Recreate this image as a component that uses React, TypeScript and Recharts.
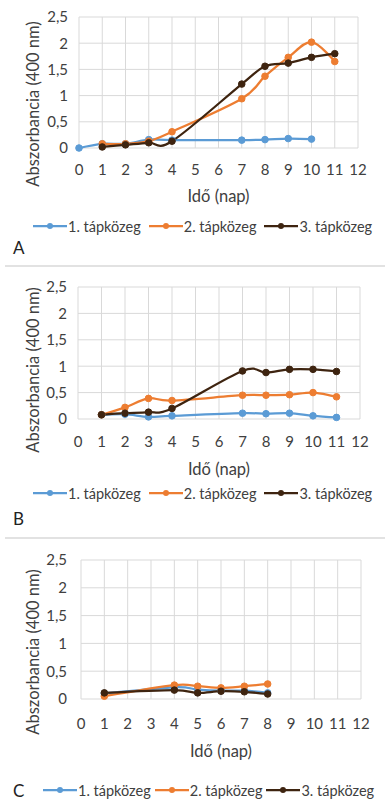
import React from 'react';
import { LineChart, Line, XAxis, YAxis, CartesianGrid } from 'recharts';

// ---------- shared ----------
const xTicks = [0, 1, 2, 3, 4, 5, 6, 7, 8, 9, 10, 11, 12];
const yTicks = [0, 0.5, 1, 1.5, 2, 2.5];
const seriesNames = ['1. tápközeg', '2. tápközeg', '3. tápközeg'];
const seriesColors = ['#5b9bd5', '#ed7d31', '#3e2410'];
const yTitle = 'Abszorbancia (400 nm)';
const xTitle = 'Idő (nap)';

// ---------- panel A ----------
const daysA1 = [0, 1, 2, 3, 4, 7, 8, 9, 10];
const valsA1 = [0, 0.08, 0.08, 0.16, 0.15, 0.15, 0.16, 0.18, 0.17];
const daysA = [1, 2, 3, 4, 7, 8, 9, 10, 11];
const valsA2 = [0.08, 0.08, 0.13, 0.31, 0.94, 1.37, 1.73, 2.02, 1.65];
const valsA3 = [0.02, 0.06, 0.1, 0.13, 1.22, 1.56, 1.62, 1.73, 1.8];

// ---------- panel B ----------
const daysB = [1, 2, 3, 4, 7, 8, 9, 10, 11];
const valsB1 = [0.08, 0.09, 0.04, 0.06, 0.11, 0.1, 0.11, 0.06, 0.03];
const valsB2 = [0.08, 0.22, 0.39, 0.35, 0.45, 0.45, 0.46, 0.5, 0.42];
const valsB3 = [0.08, 0.11, 0.13, 0.2, 0.91, 0.88, 0.94, 0.94, 0.9];

// ---------- panel C ----------
const daysC = [1, 4, 5, 6, 7, 8];
const valsC1 = [0.1, 0.21, 0.17, 0.15, 0.15, 0.11];
const valsC2 = [0.05, 0.25, 0.23, 0.2, 0.23, 0.27];
const valsC3 = [0.11, 0.16, 0.11, 0.14, 0.13, 0.09];

const FONT = 'Lato, "Noto Sans", sans-serif';
const TEXT = '#404040';

// Excel-like smoothed line (Catmull-Rom / cardinal with tension 0)
const excelSmooth = (context: any) => {
  let x0 = NaN, y0 = NaN, x1 = NaN, y1 = NaN, x2 = NaN, y2 = NaN, pt = 0;
  const k = 1 / 6;
  const seg = (x: number, y: number) =>
    context.bezierCurveTo(
      x1 + k * (x2 - x0),
      y1 + k * (y2 - y0),
      x2 + k * (x1 - x),
      y2 + k * (y1 - y),
      x2,
      y2
    );
  return {
    areaStart() {},
    areaEnd() {},
    lineStart() {
      x0 = x1 = x2 = y0 = y1 = y2 = NaN;
      pt = 0;
    },
    lineEnd() {
      if (pt === 2) context.lineTo(x2, y2);
      else if (pt === 3) seg(x1, y1);
    },
    point(x: number, y: number) {
      x = +x;
      y = +y;
      if (pt === 0) {
        pt = 1;
        context.moveTo(x, y);
      } else if (pt === 1) {
        pt = 2;
        x1 = x;
        y1 = y;
      } else {
        pt = 3;
        seg(x, y);
      }
      x0 = x1; x1 = x2; x2 = x;
      y0 = y1; y1 = y2; y2 = y;
    },
  };
};

const toPoints = (days: number[], vals: number[]) => days.map((d, i) => ({ x: d, y: vals[i] }));

type PanelCfg = {
  top: number;
  height: number;
  plotTop: number;
  plotBottom: number;
  plotLeft: number;
  plotRight: number;
  xTickMargin: number;
  yTickMargin: number;
  yTitleX: number;
  yTitleY: number;
  xTitleY: number;
  legendY: number;
  legendX: number;
  legendGap: number;
  letter: string;
  letterY: number;
  series: { x: number; y: number }[][];
};

const Dot = (props: any) => {
  const { cx, cy, stroke } = props;
  if (cx == null || cy == null) return null;
  return <circle cx={cx} cy={cy} r={3.3} fill={stroke} stroke={stroke} strokeWidth={1} />;
};

function Panel({ cfg }: { cfg: PanelCfg }) {
  const xAxisH = 30;
  return (
    <div style={{ position: 'absolute', left: 0, top: cfg.top, width: 385, height: cfg.height }}>
      <LineChart
        width={385}
        height={cfg.height}
        margin={{
          top: cfg.plotTop,
          right: 385 - cfg.plotRight,
          bottom: cfg.height - cfg.plotBottom - xAxisH,
          left: 0,
        }}
      >
        <CartesianGrid stroke="#d9d9d9" strokeWidth={1} />
        <XAxis
          type="number"
          dataKey="x"
          domain={[0, 12]}
          ticks={xTicks}
          interval={0}
          axisLine={false}
          tickLine={false}
          tickSize={0}
          tickMargin={cfg.xTickMargin}
          height={xAxisH}
          tick={{ fill: TEXT, fontSize: 15, fontFamily: FONT }}
        />
        <YAxis
          type="number"
          domain={[0, 2.5]}
          ticks={yTicks}
          interval={0}
          axisLine={false}
          tickLine={false}
          tickSize={0}
          tickMargin={cfg.yTickMargin}
          width={cfg.plotLeft}
          tick={{ fill: TEXT, fontSize: 15, fontFamily: FONT }}
          tickFormatter={(v: number) => String(v).replace('.', ',')}
        />
        {cfg.series.map((pts, i) => (
          <Line
            key={seriesNames[i]}
            data={pts}
            dataKey="y"
            name={seriesNames[i]}
            type={excelSmooth as any}
            stroke={seriesColors[i]}
            strokeWidth={2.25}
            dot={<Dot />}
            activeDot={false}
            isAnimationActive={false}
          />
        ))}
      </LineChart>
      <svg
        width={385}
        height={cfg.height}
        style={{ position: 'absolute', left: 0, top: 0, pointerEvents: 'none' }}
      >
        <text
          x={cfg.yTitleX}
          y={cfg.yTitleY}
          transform={`rotate(-90 ${cfg.yTitleX} ${cfg.yTitleY})`}
          textAnchor="middle"
          dominantBaseline="central"
          fontFamily={FONT}
          fontSize={16.5}
          fill={TEXT}
        >
          {yTitle}
        </text>
        <text
          x={(cfg.plotLeft + cfg.plotRight) / 2}
          y={cfg.xTitleY}
          textAnchor="middle"
          dominantBaseline="central"
          fontFamily={FONT}
          fontSize={16.5}
          fill={TEXT}
        >
          {xTitle}
        </text>
        <text
          x={13}
          y={cfg.letterY}
          dominantBaseline="central"
          fontFamily={FONT}
          fontSize={17}
          fill="#222"
        >
          {cfg.letter}
        </text>
      </svg>
      <div
        style={{
          position: 'absolute',
          left: cfg.legendX,
          top: cfg.legendY - 10,
          height: 20,
          display: 'flex',
          alignItems: 'center',
          whiteSpace: 'nowrap',
          fontFamily: FONT,
          fontSize: 14.5,
          color: TEXT,
        }}
      >
        {seriesNames.map((n, i) => (
          <div key={n} style={{ display: 'flex', alignItems: 'center', marginRight: cfg.legendGap }}>
            <svg width={34} height={10} style={{ display: 'block' }}>
              <line x1={0} y1={5} x2={34} y2={5} stroke={seriesColors[i]} strokeWidth={2.25} />
              <circle cx={17} cy={5} r={3} fill={seriesColors[i]} />
            </svg>
            <span style={{ marginLeft: 1 }}>{n}</span>
          </div>
        ))}
      </div>
    </div>
  );
}

const panels: PanelCfg[] = [
  {
    top: 0, height: 262, plotTop: 17, plotBottom: 148, plotLeft: 79, plotRight: 358,
    xTickMargin: 16, yTickMargin: 11, yTitleX: 33, yTitleY: 104, xTitleY: 196,
    legendY: 226, legendX: 33, legendGap: 8, letter: 'A', letterY: 247,
    series: [toPoints(daysA1, valsA1), toPoints(daysA, valsA2), toPoints(daysA, valsA3)],
  },
  {
    top: 270, height: 262, plotTop: 17, plotBottom: 149, plotLeft: 78, plotRight: 360,
    xTickMargin: 17, yTickMargin: 11, yTitleX: 33, yTitleY: 100, xTitleY: 199,
    legendY: 223, legendX: 33, legendGap: 8, letter: 'B', letterY: 248,
    series: [toPoints(daysB, valsB1), toPoints(daysB, valsB2), toPoints(daysB, valsB3)],
  },
  {
    top: 540, height: 260, plotTop: 20, plotBottom: 159, plotLeft: 81, plotRight: 361,
    xTickMargin: 19, yTickMargin: 14, yTitleX: 33, yTitleY: 112, xTitleY: 211,
    legendY: 250, legendX: 43, legendGap: 4, letter: 'C', letterY: 250,
    series: [toPoints(daysC, valsC1), toPoints(daysC, valsC2), toPoints(daysC, valsC3)],
  },
];

export default function App() {
  return (
    <div
      style={{
        position: 'absolute',
        left: 0,
        top: 0,
        width: 385,
        height: 800,
        background: '#fff',
        overflow: 'hidden',
      }}
    >
      {panels.map((p) => (
        <Panel key={p.letter} cfg={p} />
      ))}
      <div style={{ position: 'absolute', left: 5, top: 265, width: 380, borderTop: '2px solid #e2e2e2' }} />
      <div style={{ position: 'absolute', left: 5, top: 537, width: 380, borderTop: '2px solid #e2e2e2' }} />
    </div>
  );
}
